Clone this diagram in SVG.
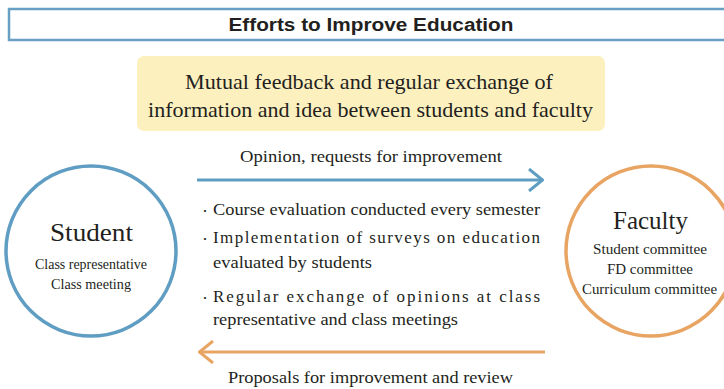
<svg xmlns="http://www.w3.org/2000/svg" width="724" height="389" viewBox="0 0 724 389">
  <style>
    .serif { font-family: "Liberation Serif", "DejaVu Serif", serif; fill: #231f20; }
    .title { font-family: "Liberation Sans", Arial, sans-serif; font-weight: bold; font-size: 18px; fill: #231f20; }
    .big { font-size: 22px; }
    .node-name { font-size: 26px; }
    .sub { font-size: 14px; }
    .sub-f { font-size: 15px; }
    .body { font-size: 17px; }
    .dot { font-family: "Noto Sans CJK JP", sans-serif; font-size: 10px; }
    .blue { stroke: #5f9dc3; }
    .orange { stroke: #e8a462; }
  </style>
  <defs>
    <marker id="chev-blue" viewBox="0 0 16 24" refX="15" refY="12" markerWidth="16" markerHeight="24" markerUnits="userSpaceOnUse" orient="auto">
      <polyline points="1,1 14.5,12 1,23" fill="none" stroke="#5f9dc3" stroke-width="3"/>
    </marker>
    <marker id="chev-orange" viewBox="0 0 16 24" refX="15" refY="12" markerWidth="16" markerHeight="24" markerUnits="userSpaceOnUse" orient="auto">
      <polyline points="1,1 14.5,12 1,23" fill="none" stroke="#e8a462" stroke-width="3"/>
    </marker>
  </defs>

  <rect width="724" height="389" fill="#ffffff"/>

  <!-- Header -->
  <g id="header">
    <rect x="9" y="9" width="720" height="31" fill="#ffffff" stroke="#6a9fc4" stroke-width="2.5"/>
    <text class="title" x="371" y="31" text-anchor="middle" textLength="285" lengthAdjust="spacingAndGlyphs">Efforts to Improve Education</text>
  </g>

  <!-- Summary banner -->
  <g id="summary">
    <rect x="137" y="56" width="468" height="75" rx="7" fill="#fcf0bf"/>
    <text class="serif big" x="185" y="89" textLength="368" lengthAdjust="spacingAndGlyphs">Mutual feedback and regular exchange of</text>
    <text class="serif big" x="148" y="117" textLength="445" lengthAdjust="spacingAndGlyphs">information and idea between students and faculty</text>
  </g>

  <!-- Student node -->
  <g id="student">
    <circle cx="91" cy="251" r="85" fill="#ffffff" stroke="#5f9dc3" stroke-width="3.5"/>
    <text class="serif node-name" x="50" y="241" textLength="83" lengthAdjust="spacingAndGlyphs">Student</text>
    <text class="serif sub" x="35" y="269" textLength="112" lengthAdjust="spacingAndGlyphs">Class representative</text>
    <text class="serif sub" x="51" y="289" textLength="80" lengthAdjust="spacingAndGlyphs">Class meeting</text>
  </g>

  <!-- Faculty node -->
  <g id="faculty">
    <circle cx="651" cy="251" r="85" fill="#ffffff" stroke="#e8a462" stroke-width="3.5"/>
    <text class="serif node-name" x="613" y="229" textLength="75" lengthAdjust="spacingAndGlyphs">Faculty</text>
    <text class="serif sub-f" x="593" y="254" textLength="114" lengthAdjust="spacingAndGlyphs">Student committee</text>
    <text class="serif sub-f" x="607" y="274" textLength="86" lengthAdjust="spacingAndGlyphs">FD committee</text>
    <text class="serif sub-f" x="582" y="294" textLength="135" lengthAdjust="spacingAndGlyphs">Curriculum committee</text>
  </g>

  <!-- Connectors -->
  <g id="connectors" fill="none" stroke-width="3">
    <line class="blue" x1="197" y1="180" x2="543" y2="180" marker-end="url(#chev-blue)"/>
    <line class="orange" x1="545" y1="352" x2="199" y2="352" marker-end="url(#chev-orange)"/>
  </g>

  <!-- Connector labels -->
  <g id="labels">
    <text class="serif body" x="240" y="162" textLength="262" lengthAdjust="spacingAndGlyphs">Opinion, requests for improvement</text>
    <text class="serif body" x="228" y="383" textLength="285" lengthAdjust="spacingAndGlyphs">Proposals for improvement and review</text>
  </g>

  <!-- Activities list -->
  <g id="activities" class="serif body">
    <text x="200" y="215"><tspan class="dot">・</tspan><tspan x="213" textLength="327" lengthAdjust="spacingAndGlyphs">Course evaluation conducted every semester</tspan></text>
    <text x="200" y="243"><tspan class="dot">・</tspan><tspan x="213" textLength="327" lengthAdjust="spacing">Implementation of surveys on education</tspan></text>
    <text x="213" y="268" textLength="159" lengthAdjust="spacingAndGlyphs">evaluated by students</text>
    <text x="200" y="302"><tspan class="dot">・</tspan><tspan x="213" textLength="327" lengthAdjust="spacing">Regular exchange of opinions at class</tspan></text>
    <text x="213" y="325" textLength="245" lengthAdjust="spacingAndGlyphs">representative and class meetings</text>
  </g>
</svg>
